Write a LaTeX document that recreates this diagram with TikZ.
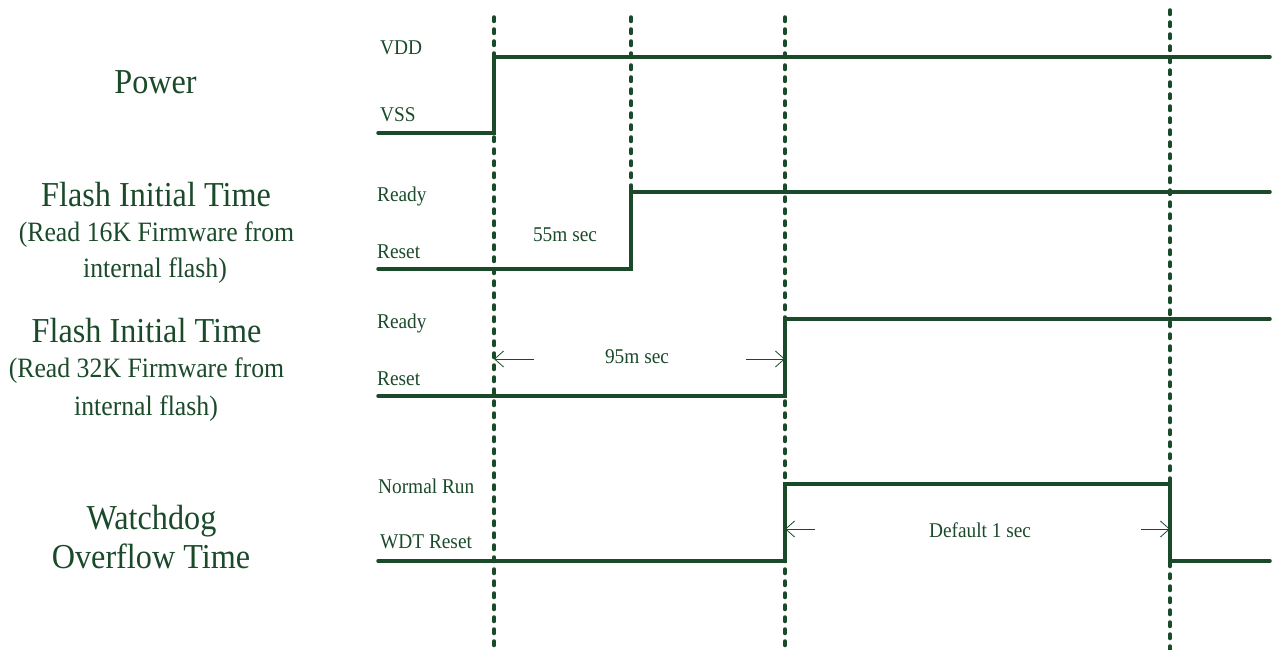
\documentclass[tikz,border=0pt]{standalone}
\usepackage{fontspec}
\setmainfont{Liberation Serif}[FakeStretch=0.92]
\usetikzlibrary{arrows.meta}

\definecolor{WaveGreen}{RGB}{26,74,42}

\begin{document}
\begin{tikzpicture}[x=1pt, y=-1pt,
    wave/.style={draw=WaveGreen, line width=3.5pt, line cap=round},
    marker/.style={draw=WaveGreen, line width=3.5pt, line cap=round, dash pattern=on 4.5pt off 7.5pt},
    span/.style={draw=WaveGreen, line width=0.8pt, -{Straight Barb[length=9pt,width=16pt]}},
    title/.style={text=WaveGreen, anchor=base, inner sep=0pt, font=\fontsize{35}{40}\selectfont},
    subtitle/.style={text=WaveGreen, anchor=base, inner sep=0pt, font=\fontsize{28}{32}\selectfont},
    level/.style={text=WaveGreen, anchor=base west, inner sep=0pt, font=\fontsize{21}{24}\selectfont},
    note/.style={text=WaveGreen, anchor=base, inner sep=0pt, font=\fontsize{21}{24}\selectfont}
  ]
    \useasboundingbox (0,0) rectangle (1274,650);

    % Time markers
    \draw[marker] (494,17) -- (494,650);
    \draw[marker] (631,17) -- (631,190);
    \draw[marker] (785,17) -- (785,650);
    \draw[marker] (1170,10) -- (1170,650);

    % Power
    \node[title] (power) at (155.5,93.5) {Power};
    \node[level] (vdd) at (380,55) {VDD};
    \node[level] (vss) at (380,122) {VSS};
    \draw[wave] (378,133) -- (494,133) -- (494,57) -- (1270,57);

    % Flash Initial Time, 16K
    \node[title] (flashA) at (156,206.5) {Flash Initial Time};
    \node[subtitle] (readA) at (156.5,241) {(Read 16K Firmware from};
    \node[subtitle] (intA) at (155,277) {internal flash)};
    \node[level] (readyA) at (377,201) {Ready};
    \node[level] (resetA) at (377,258) {Reset};
    \draw[wave] (378,269) -- (631,269) -- (631,192) -- (1270,192);
    \node[note] (timeA) at (565,241) {55m sec};

    % Flash Initial Time, 32K
    \node[title] (flashB) at (146.5,342.5) {Flash Initial Time};
    \node[subtitle] (readB) at (146.5,377) {(Read 32K Firmware from};
    \node[subtitle] (intB) at (146,415) {internal flash)};
    \node[level] (readyB) at (377,328) {Ready};
    \node[level] (resetB) at (377,385) {Reset};
    \draw[wave] (378,396) -- (785,396) -- (785,319) -- (1270,319);
    \node[note] (timeB) at (637,363) {95m sec};
    \coordinate (tBl) at (534,359);
    \coordinate (tBr) at (746,359);
    \draw[span] (tBl) -- (494,359);
    \draw[span] (tBr) -- (785,359);

    % Watchdog
    \node[title] (wdog) at (151.5,529.5) {Watchdog};
    \node[title] (wover) at (151,568.5) {Overflow Time};
    \node[level] (run) at (378,493) {Normal Run};
    \node[level] (wdt) at (380,548) {WDT Reset};
    \draw[wave] (378,561) -- (785,561) -- (785,484) -- (1170,484) -- (1170,561) -- (1270,561);
    \node[note] (timeC) at (980,537) {Default 1 sec};
    \coordinate (tCl) at (815,529);
    \coordinate (tCr) at (1141,529);
    \draw[span] (tCl) -- (785,529);
    \draw[span] (tCr) -- (1170,529);
  \end{tikzpicture}
\end{document}
